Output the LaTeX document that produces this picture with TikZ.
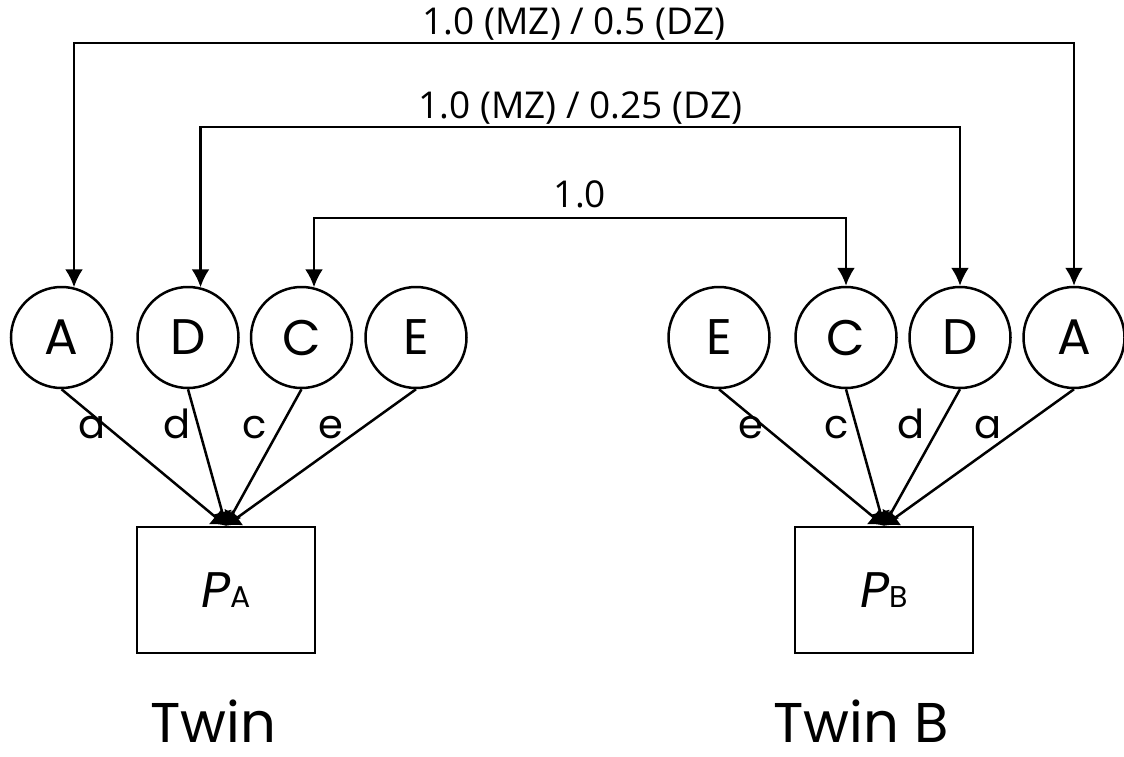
\documentclass[tikz,border=0pt]{standalone}
\usepackage{fontspec}
\setmainfont{Poppins}
\newfontfamily\numfont{Open Sans}
\usetikzlibrary{arrows.meta, positioning}

\tikzset{
  factor/.style={draw, circle, line width=2.5pt, minimum size=101pt, inner sep=0pt,
    font=\fontsize{50}{50}\selectfont},
  pheno/.style={draw, rectangle, line width=2.5pt, minimum width=178pt,
    minimum height=126pt, inner sep=0pt, font=\fontsize{50}{50}\selectfont},
  loading/.style={line width=2.5pt, -{Latex[length=14pt,width=20pt]}},
  corr/.style={line width=2.5pt, {Latex[length=18pt,width=18pt]}-{Latex[length=18pt,width=18pt]}},
  corrlabel/.style={above, inner sep=1pt, font=\numfont\fontsize{37}{37}\selectfont},
  coef/.style={pos=.33, left=9pt, inner sep=0pt, text height=.75em, text depth=0pt,
    font=\fontsize{40}{40}\selectfont},
  twin/.style={anchor=base, inner sep=0pt, font=\fontsize{56}{56}\selectfont},
}

\begin{document}
\begin{tikzpicture}[x=1pt, y=-1pt]
    \useasboundingbox (0,0) rectangle (1124,757);

    % latent factors, twin A then twin B
    \node[factor] (lA) at (61.5,337.5) {A};
    \node[factor] (lD) at (188,337.5) {D};
    \node[factor] (lC) at (301.5,337.5) {C};
    \node[factor] (lE) at (416,337.5) {E};
    \node[factor] (rE) at (719,337.5) {E};
    \node[factor] (rC) at (846,337.5) {C};
    \node[factor] (rD) at (960,337.5) {D};
    \node[factor] (rA) at (1074,337.5) {A};

    % phenotypes
    \node[pheno] (pA) at (226,590) {\textit{P}{\fontsize{30}{30}\selectfont A}};
    \node[pheno] (pB) at (884,590) {\textit{P}{\fontsize{30}{30}\selectfont B}};

    \node[twin] (tA) at (213,742) {Twin};
    \node[twin] (tB) at (861,742) {Twin B};

    % correlations between the twins
    \coordinate (topA) at (0,43);
    \coordinate (topD) at (0,127);
    \coordinate (topC) at (0,218);
    \draw[corr] (lA.76) -- (lA.76 |- topA)
      -- node[corrlabel] (kA) {1.0 (MZ) / 0.5 (DZ)} (rA.north |- topA) -- (rA.north);
    \draw[corr] (lD.76) -- (lD.76 |- topD)
      -- node[corrlabel] (kD) {1.0 (MZ) / 0.25 (DZ)} (rD.north |- topD) -- (rD.north);
    \draw[corr] (lC.76) -- (lC.76 |- topC)
      -- node[corrlabel, above=8pt] (kC) {1.0} (rC.north |- topC) -- (rC.north);

    % paths to the phenotypes
    \draw[loading] (lA.south) -- node[coef] (la) {a} (pA.north);
    \draw[loading] (lD.south) -- node[coef] (ld) {d} (pA.north);
    \draw[loading] (lC.south) -- node[coef] (lc) {c} (pA.north);
    \draw[loading] (lE.south) -- node[coef] (le) {e} (pA.north);
    \draw[loading] (rE.south) -- node[coef] (re) {e} (pB.north);
    \draw[loading] (rC.south) -- node[coef] (rc) {c} (pB.north);
    \draw[loading] (rD.south) -- node[coef] (rd) {d} (pB.north);
    \draw[loading] (rA.south) -- node[coef] (ra) {a} (pB.north);
\end{tikzpicture}
\end{document}
